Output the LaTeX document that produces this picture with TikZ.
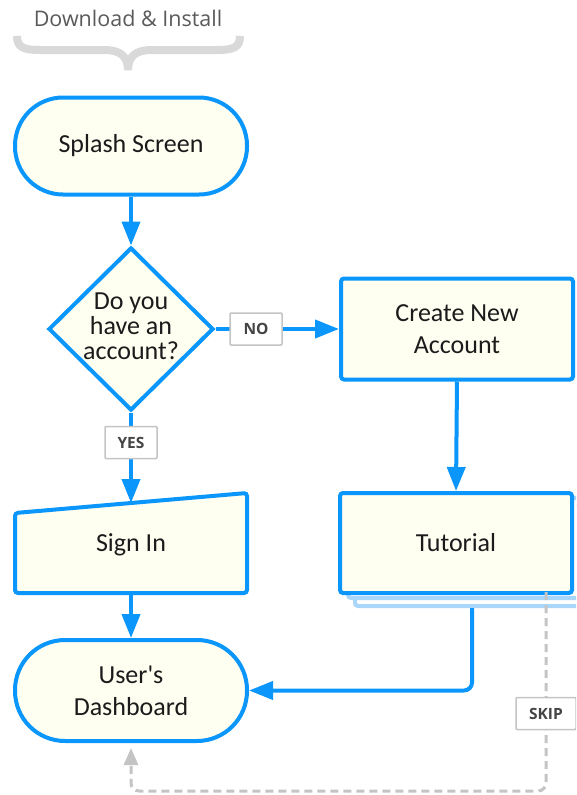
\documentclass[tikz,border=0pt]{standalone}
\usepackage{fontspec}
\setmainfont{Carlito}
\newfontfamily\hdrfont{Open Sans}
\usetikzlibrary{arrows.meta,shapes.geometric,calc}
\definecolor{fblue}{HTML}{0A96FA}
\definecolor{lblue}{HTML}{A9D6FB}
\definecolor{ffill}{HTML}{FEFEF1}
\definecolor{sgray}{HTML}{C4C4C4}
\definecolor{bgray}{HTML}{D9D9D9}
\definecolor{tgray}{HTML}{444444}
\definecolor{hgray}{HTML}{5A5A5A}
\definecolor{ntext}{HTML}{1B1B1B}
\begin{document}
\begin{tikzpicture}[x=1pt,y=-1pt,
  shapebox/.style={draw=fblue, line width=4pt, fill=ffill, text=ntext,
    font=\fontsize{26}{32}\selectfont, align=center, inner sep=0pt},
  term/.style={shapebox, rounded corners=48pt, minimum width=232pt, minimum height=97pt},
  procbox/.style={shapebox, rounded corners=3pt, minimum width=232pt, minimum height=101pt},
  dia/.style={shapebox, diamond, minimum width=165pt, minimum height=163pt},
  txt/.style={text=ntext, font=\fontsize{26}{25}\selectfont, align=center, inner sep=0pt},
  conn/.style={draw=fblue, line width=4pt, -{Triangle[length=24pt,width=18pt]}},
  skipline/.style={draw=sgray, line width=3pt, dash pattern=on 8pt off 5pt,
    -{Triangle[length=17pt,width=14pt]}},
  lbl/.style={draw=sgray, line width=1.5pt, fill=white, text=tgray,
    font=\hdrfont\bfseries\fontsize{15.5}{15.5}\selectfont,
    minimum width=52pt, minimum height=32pt, inner sep=0pt, rounded corners=1pt},
  stack/.style={draw=lblue, line width=4pt, fill=white, rounded corners=3pt}
]
\path[use as bounding box] (0,0) rectangle (576,795);
\clip (0,0) rectangle (576,795);

% header and brace
\node[font=\hdrfont\fontsize{21.5}{21.5}\selectfont, text=hgray, inner sep=0pt] (hdr) at (128,18) {Download \& Install};
\draw[bgray, line width=8pt]
  (17,36) .. controls (17,47) and (23,50) .. (40,50) -- (104,50)
  .. controls (120,50) and (128,56) .. (128,70)
  .. controls (128,56) and (136,50) .. (152,50) -- (217,50)
  .. controls (234,50) and (240,47) .. (240,36);

% nodes
\node[term] (splash) at (131,146) {Splash Screen};
\node[dia] (q) at (131,329) {};
\node[txt] (qtext) at (131,326) {Do you\\have an\\account?};
\node[procbox] (create) at (457,329) {Create New\\Account};

% sign in (manual input)
\filldraw[draw=fblue, fill=ffill, line width=4pt, rounded corners=3pt]
  (15,593) -- (15,513) -- (247,493) -- (247,593) -- cycle;
\node[txt, minimum width=232pt, minimum height=96pt] (signin) at (131,545) {Sign In};
\coordinate (siTop) at (131,503);

% tutorial (multi-document)
\draw[stack] (355,506) rectangle (587,606);
\draw[stack] (348,498) rectangle (580,598);
\node[procbox, minimum height=100pt] (tut) at (456,543) {Tutorial};
\coordinate (tutOut) at (472,608);
\coordinate (skS) at (546,592);

\node[term, minimum height=101pt, rounded corners=50pt] (dash) at (131,690.5) {User\textquotesingle s\\Dashboard};

% connectors
\draw[conn] (splash.south) -- (q.north);
\draw[conn] (q.east) -- (create.west);
\draw[conn] (q.south) -- (siTop);
\draw[conn] (create.south) -- (tut.north);
\draw[conn] (signin.south) -- (dash.north);
\draw[conn, rounded corners=8pt] (tutOut) |- (dash.east);
\draw[skipline, rounded corners=8pt, shorten >=5pt] (skS) -- (546,791) -- (131,791) -- (dash.south);

% labels
\node[lbl] (no) at (256,329) {NO};
\node[lbl] (yes) at (131,442.5) {YES};
\node[lbl, minimum width=60pt] (skip) at (546,713.5) {SKIP};
\end{tikzpicture}
\end{document}
